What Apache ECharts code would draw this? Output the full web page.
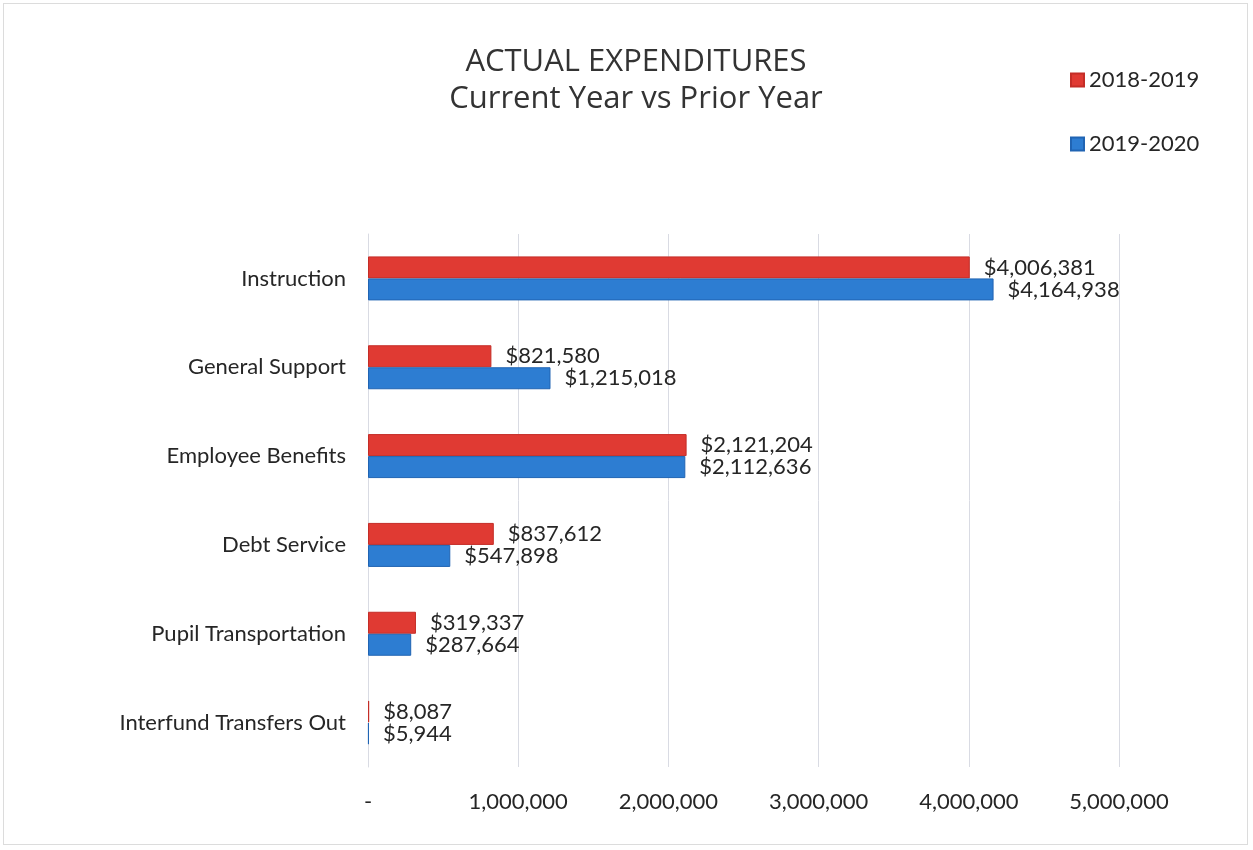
<!DOCTYPE html>
<html>
<head>
<meta charset="utf-8">
<script src="https://cdn.jsdelivr.net/npm/echarts@6/dist/echarts.min.js"></script>
<style>
  html, body { margin: 0; padding: 0; background: #fff; }
  #frame { position: absolute; left: 3px; top: 3px; width: 1245px; height: 842px; border: 1px solid #dcdcdc; box-sizing: border-box; }
  #chart { position: absolute; left: 0; top: 0; width: 1253px; height: 850px; }
</style>
</head>
<body>
<div id="frame"></div>
<div id="chart"></div>
<script>
// Expenditure categories, top to bottom
const categories = [
  'Instruction',
  'General Support',
  'Employee Benefits',
  'Debt Service',
  'Pupil Transportation',
  'Interfund Transfers Out'
];
const seriesNames = ['2018-2019', '2019-2020'];
const prior = [4006381, 821580, 2121204, 837612, 319337, 8087];
const current = [4164938, 1215018, 2112636, 547898, 287664, 5944];
const xTicks = [0, 1000000, 2000000, 3000000, 4000000, 5000000];

const FONT = 'Lato, "Noto Sans", sans-serif';
const TITLE_FONT = '"Open Sans", Lato, sans-serif';
const TEXT = '#262626';

function money(v) {
  return '$' + Number(v).toLocaleString('en-US');
}

const chart = echarts.init(document.getElementById('chart'));

const labelStyle = {
  show: true,
  position: 'right',
  distance: 14,
  color: TEXT,
  fontFamily: FONT,
  fontSize: 22,
  formatter: p => money(p.value)
};

chart.setOption({
  animation: false,
  backgroundColor: 'transparent',
  title: {
    text: 'ACTUAL EXPENDITURES\nCurrent Year vs Prior Year',
    left: 631,
    textAlign: 'center',
    top: 39,
    textStyle: {
      fontFamily: TITLE_FONT,
      fontSize: 31,
      fontWeight: 'normal',
      color: '#333333',
      lineHeight: 37
    }
  },
  legend: {
    orient: 'vertical',
    left: 1065,
    top: 64,
    itemWidth: 13,
    itemHeight: 13,
    itemGap: 42,
    icon: 'rect',
    textStyle: { fontFamily: FONT, fontSize: 22, color: TEXT },
    data: seriesNames
  },
  grid: {
    left: 368,
    right: 134,
    top: 234,
    bottom: 83,
    containLabel: false
  },
  xAxis: {
    type: 'value',
    min: xTicks[0],
    max: xTicks[xTicks.length - 1],
    interval: 1000000,
    axisLine: { show: false },
    axisTick: { show: false },
    splitLine: { show: true, lineStyle: { color: '#d9dbe3', width: 1 } },
    axisLabel: {
      margin: 24,
      color: TEXT,
      fontFamily: FONT,
      fontSize: 22,
      formatter: v => v === 0 ? '-' : Number(v).toLocaleString('en-US')
    }
  },
  yAxis: {
    type: 'category',
    inverse: true,
    data: categories,
    axisLine: { show: true, lineStyle: { color: '#d9dbe3' } },
    axisTick: { show: false },
    axisLabel: {
      margin: 22,
      color: TEXT,
      fontFamily: FONT,
      fontSize: 22
    }
  },
  series: [
    {
      name: seriesNames[0],
      type: 'bar',
      data: prior,
      barWidth: 22,
      barGap: '0%',
      itemStyle: { color: '#e03a33', borderColor: '#c42d27', borderWidth: 1 },
      label: labelStyle
    },
    {
      name: seriesNames[1],
      type: 'bar',
      data: current,
      barWidth: 22,
      barGap: '0%',
      itemStyle: { color: '#2d7dd2', borderColor: '#2064b3', borderWidth: 1 },
      label: labelStyle
    }
  ]
});
</script>
</body>
</html>
